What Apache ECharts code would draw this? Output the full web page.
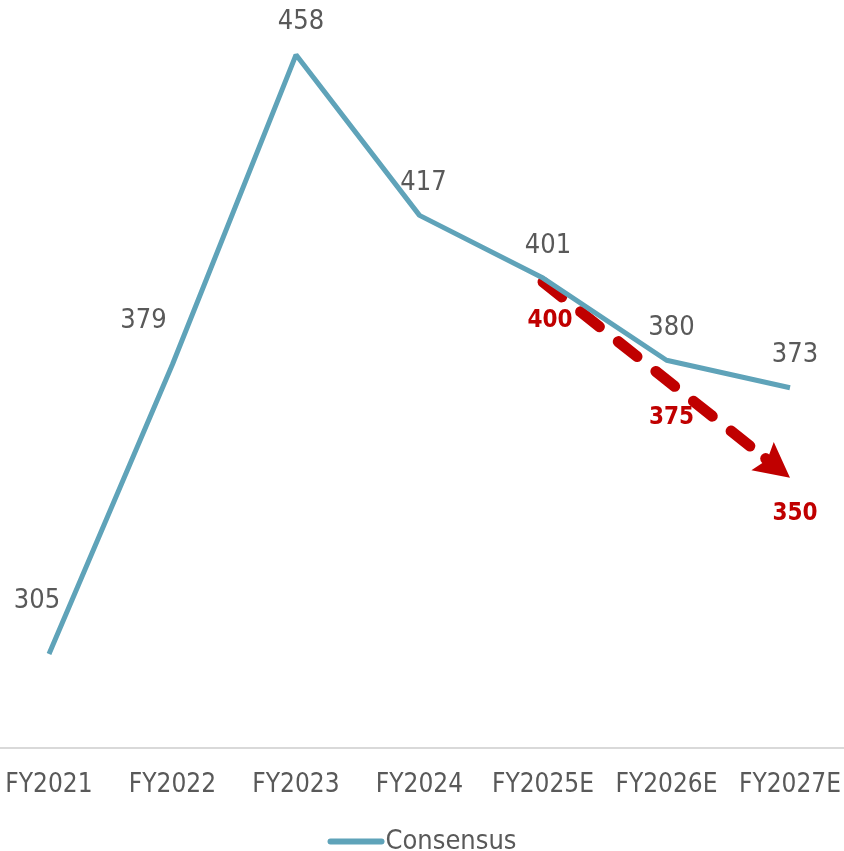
<!DOCTYPE html>
<html>
<head>
<meta charset="utf-8">
<script src="https://cdn.jsdelivr.net/npm/echarts@6/dist/echarts.min.js"></script>
<style>
  html, body { margin: 0; padding: 0; background: #fff; }
  #chart { width: 844px; height: 851px; }
</style>
</head>
<body>
<div id="chart"></div>
<script>
// Fiscal years on the category axis
const categories = ['FY2021', 'FY2022', 'FY2023', 'FY2024', 'FY2025E', 'FY2026E', 'FY2027E'];
// Consensus estimates
const consensus = [305, 379, 458, 417, 401, 380, 373];
// Our own downside path (FY2025E onward)
const ourView = [null, null, null, null, 400, 375, 350];

const FONT = "'DejaVu Sans Condensed', 'Liberation Sans', sans-serif";
const GREY = '#595959';
const RED = '#c00000';
const BLUE = '#5fa3b9';

// Per-point label nudges
const consensusLabelOffsets = [[-12, -21], [-29, -11], [5, 0], [4, 0], [5, 0], [5, 0], [5, 0]];
const ourViewLabelOffsets = [null, null, null, null, [7, 2], [5, 1], [5, -1]];

// Points of the downside path as [categoryIndex, value]
const ourViewPoints = [];
ourView.forEach((v, i) => { if (v !== null) ourViewPoints.push([i, v]); });

// Dashed path ending in an arrowhead, drawn once from all points
function renderOurViewPath(params, api) {
  if (params.dataIndex !== ourViewPoints.length - 1) return null;
  const pts = ourViewPoints.map(p => api.coord(p));
  const tip = pts[pts.length - 1];
  const prev = pts[pts.length - 2];
  const dx = tip[0] - prev[0], dy = tip[1] - prev[1];
  const len = Math.sqrt(dx * dx + dy * dy);
  const ux = dx / len, uy = dy / len;       // direction of travel
  const px = -uy, py = ux;                  // perpendicular
  const headLen = 35, halfW = 18, notch = 6;
  const bx = tip[0] - headLen * ux, by = tip[1] - headLen * uy;
  const nx = tip[0] - (headLen - notch) * ux, ny = tip[1] - (headLen - notch) * uy;
  const linePts = pts.slice(0, -1).concat([[nx - 4 * ux, ny - 4 * uy]]);
  return {
    type: 'group',
    children: [
      {
        type: 'polyline',
        shape: { points: linePts },
        style: { stroke: RED, lineWidth: 11, lineDash: [24, 24], lineCap: 'round', fill: null }
      },
      {
        type: 'circle',
        shape: { cx: nx - 2 * ux, cy: ny - 2 * uy, r: 5.5 },
        style: { fill: RED }
      },
      {
        type: 'polygon',
        shape: {
          points: [
            tip,
            [bx + halfW * px, by + halfW * py],
            [nx, ny],
            [bx - halfW * px, by - halfW * py]
          ]
        },
        style: { fill: RED }
      }
    ]
  };
}

const chart = echarts.init(document.getElementById('chart'));
chart.setOption({
  animation: false,
  grid: [
    { left: 49, right: 54, top: 0, bottom: 103, containLabel: false, outerBoundsMode: 'none' },
    { left: 0, right: 0, top: 0, bottom: 103, containLabel: false, outerBoundsMode: 'none' }
  ],
  legend: {
    top: 823,
    left: 'center',
    data: [{ name: 'Consensus', icon: 'path://M3,0 L54,0 A3,3 0 0 1 54,6 L3,6 A3,3 0 0 1 3,0 Z' }],
    itemWidth: 57,
    itemHeight: 7,
    itemGap: 2,
    textStyle: { fontFamily: FONT, fontSize: 27, color: GREY, padding: [0, 0, 0, -4] }
  },
  xAxis: [
    {
      type: 'category',
      gridIndex: 0,
      data: categories,
      boundaryGap: false,
      axisLine: { show: false },
      axisTick: { show: false },
      axisLabel: { fontFamily: FONT, fontSize: 26, color: GREY, margin: 24, interval: 0 }
    },
    {
      type: 'value',
      gridIndex: 1,
      min: 0,
      max: 1,
      axisLine: { show: true, lineStyle: { color: '#d9d9d9', width: 2 } },
      axisTick: { show: false },
      axisLabel: { show: false },
      splitLine: { show: false }
    }
  ],
  yAxis: [
    { type: 'value', gridIndex: 0, min: 281, max: 472, show: false, splitLine: { show: false } },
    { type: 'value', gridIndex: 1, min: 0, max: 1, show: false, splitLine: { show: false } }
  ],
  series: [
    {
      name: 'Our view path',
      type: 'custom',
      data: ourViewPoints,
      renderItem: renderOurViewPath,
      silent: true,
      z: 1
    },
    {
      name: 'Consensus',
      type: 'line',
      data: consensus.map((v, i) => ({ value: v, label: { offset: consensusLabelOffsets[i] } })),
      symbol: 'circle',
      symbolSize: 0,
      showSymbol: true,
      lineStyle: { color: BLUE, width: 5 },
      itemStyle: { color: BLUE },
      label: {
        show: true,
        position: 'top',
        distance: 19,
        fontFamily: FONT,
        fontSize: 27,
        color: GREY
      },
      z: 3
    },
    {
      name: 'Our view',
      type: 'line',
      data: ourView.map((v, i) => v === null ? null : ({ value: v, label: { offset: ourViewLabelOffsets[i] } })),
      symbol: 'circle',
      symbolSize: 0,
      showSymbol: true,
      lineStyle: { width: 0, opacity: 0 },
      itemStyle: { color: RED },
      label: {
        show: true,
        position: 'bottom',
        distance: 25,
        fontFamily: FONT,
        fontSize: 24,
        fontWeight: 'bold',
        color: RED
      },
      z: 4
    }
  ]
});
</script>
</body>
</html>
